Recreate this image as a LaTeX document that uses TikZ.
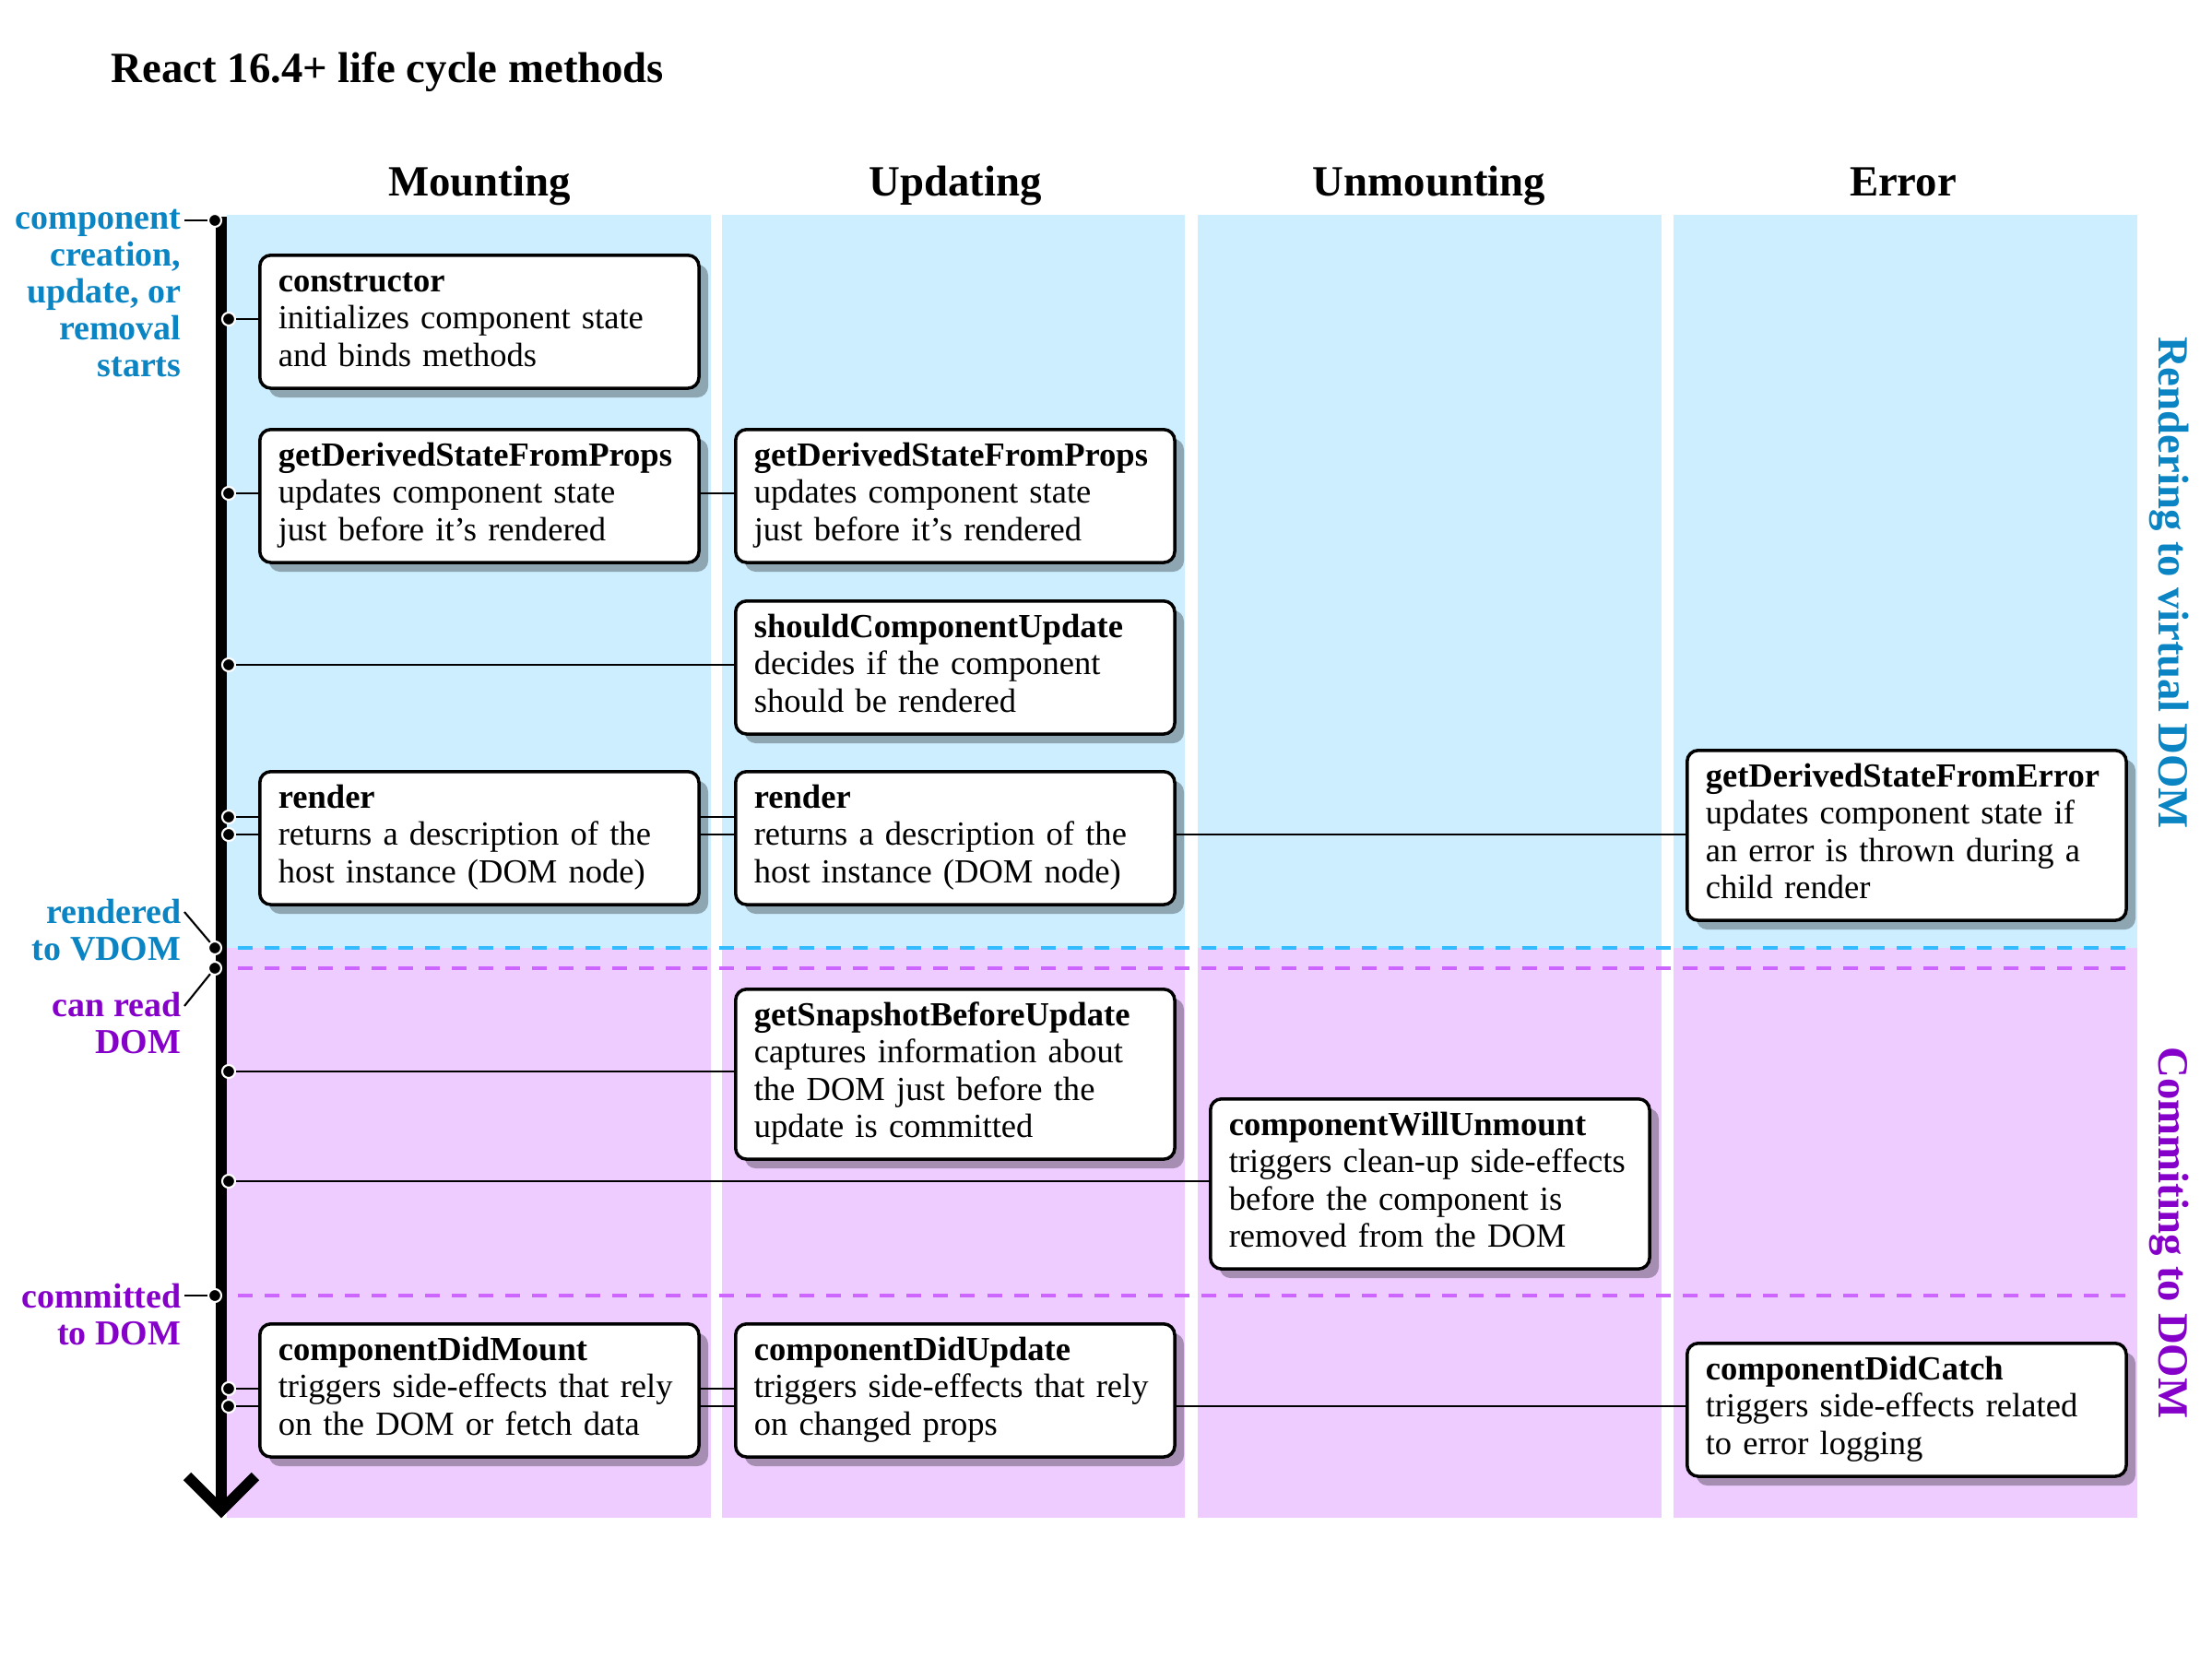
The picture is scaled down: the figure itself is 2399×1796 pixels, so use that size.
\documentclass[tikz,border=0pt]{standalone}
\usepackage{fontspec}
\setmainfont{Liberation Serif}
\usepackage{xcolor}
\usetikzlibrary{positioning, calc, shadows, backgrounds}

\definecolor{vdomblue}{HTML}{0A84C2}
\definecolor{dompurple}{HTML}{8500C8}
\definecolor{vdomfill}{HTML}{CCEEFF}
\definecolor{domfill}{HTML}{EECCFF}
\definecolor{vdomdash}{HTML}{33BBFF}
\definecolor{domdash}{HTML}{CC66FF}

\tikzset{
  method/.style={draw, line width=1pt, fill=white, rounded corners=0.12cm, anchor=north west,
    text width=4.36cm, align=left, inner xsep=0.2cm, inner ysep=0.12cm,
    font=\fontsize{10.4}{11.4}\selectfont,
    execute at begin node=\strut, execute at end node=\strut,
    drop shadow={shadow xshift=0.1cm, shadow yshift=-0.1cm, fill=black, opacity=0.3}},
  phase/.style={font=\fontsize{13.3}{16}\selectfont\bfseries},
  moment/.style={anchor=north east, align=right, inner sep=0pt,
    font=\fontsize{10.8}{11.4}\selectfont\bfseries, execute at begin node=\strut},
  axisdot/.style={circle, fill=black, draw=white, line width=0.6pt, minimum size=0.14cm, inner sep=0pt},
  link/.style={line width=0.6pt},
  stage/.style={line width=1.1pt, dash pattern=on 0.16cm off 0.13cm}
}

\begin{document}
\begin{tikzpicture}[x=0.01cm, y=-0.01cm]
        \useasboundingbox (0,0) rectangle (2399,1796);

        \begin{pgfonlayer}{background}
        \foreach \xa/\xb in {246/771, 783/1285, 1299/1802, 1815/2318} {
            \fill[vdomfill] (\xa,233) rectangle (\xb,1028);
            \fill[domfill] (\xa,1028) rectangle (\xb,1646);
        }
        \draw[stage, vdomdash] (258,1028) -- (2318,1028);
        \draw[stage, domdash] (258,1050) -- (2318,1050);
        \draw[stage, domdash] (258,1405) -- (2318,1405);
        \end{pgfonlayer}

        \node[phase, anchor=base west, inner sep=0pt] (title) at (120,89) {React 16.4+ life cycle methods};
        \node[phase, anchor=base] (hMount) at (520,212) {Mounting};
        \node[phase, anchor=base] (hUpdate) at (1036,212) {Updating};
        \node[phase, anchor=base] (hUnmount) at (1550,212) {Unmounting};
        \node[phase, anchor=base] (hError) at (2064,212) {Error};

        \node[method] (cons) at (280,275) {\textbf{constructor}\\initializes component state\\and binds methods};
        \node[method] (gdpM) at (280,464) {\textbf{getDerivedStateFromProps}\\updates component state\\just before it’s rendered};
        \node[method] (rendM) at (280,835) {\textbf{render}\\returns a description of the\\host instance (DOM node)};
        \node[method] (didMount) at (280,1434) {\textbf{componentDidMount}\\triggers side-effects that rely\\on the DOM or fetch data};

        \node[method] (gdpU) at (796,464) {\textbf{getDerivedStateFromProps}\\updates component state\\just before it’s rendered};
        \node[method] (shouldU) at (796,650) {\textbf{shouldComponentUpdate}\\decides if the component\\should be rendered};
        \node[method] (rendU) at (796,835) {\textbf{render}\\returns a description of the\\host instance (DOM node)};
        \node[method] (snapshot) at (796,1071) {\textbf{getSnapshotBeforeUpdate}\\captures information about\\the DOM just before the\\update is committed};
        \node[method] (didUpdate) at (796,1434) {\textbf{componentDidUpdate}\\triggers side-effects that rely\\on changed props};

        \node[method] (willUnmount) at (1311,1190) {\textbf{componentWillUnmount}\\triggers clean-up side-effects\\before the component is\\removed from the DOM};

        \node[method] (gdsError) at (1828,812) {\textbf{getDerivedStateFromError}\\updates component state if\\an error is thrown during a\\child render};
        \node[method] (didCatch) at (1828,1455) {\textbf{componentDidCatch}\\triggers side-effects related\\to error logging};

        \node[phase, vdomblue, rotate=-90] (sideVdom) at (2353,632) {Rendering to virtual DOM};
        \node[phase, dompurple, rotate=-90] (sideDom) at (2353,1337) {Commiting to DOM};

        \draw[line width=3.4pt] (240,235) -- (240,1638);
        \draw[line width=3.4pt] (203,1601) -- (240,1638) -- (277,1601);

        \node[axisdot] (tStart) at (233,239) {};
        \node[axisdot] (tVdom) at (233,1028) {};
        \node[axisdot] (tRead) at (233,1050) {};
        \node[axisdot] (tCommit) at (233,1405) {};

        \node[axisdot] (tCons) at (248,346) {};
        \node[axisdot] (tProps) at (248,535) {};
        \node[axisdot] (tShould) at (248,721) {};
        \node[axisdot] (tRendA) at (248,886) {};
        \node[axisdot] (tRendB) at (248,905) {};
        \node[axisdot] (tSnap) at (248,1162) {};
        \node[axisdot] (tUnmount) at (248,1281) {};
        \node[axisdot] (tDidA) at (248,1506) {};
        \node[axisdot] (tDidB) at (248,1525) {};

        \node[moment, vdomblue] (lStart) at (197,226) {component\\creation,\\update, or\\removal\\starts};
        \node[moment, vdomblue] (lVdom) at (197,974) {rendered\\to VDOM};
        \node[moment, dompurple] (lRead) at (197,1075) {can read\\DOM};
        \node[moment, dompurple] (lCommit) at (197,1391) {committed\\to DOM};

        \draw[link] ($(lStart.north east |- tStart)+(3,0)$) -- (tStart);
        \draw[link] ($(lVdom.north east)+(3,15)$) -- (tVdom);
        \draw[link] ($(lRead.north east)+(3,16)$) -- (tRead);
        \draw[link] ($(lCommit.north east |- tCommit)+(3,0)$) -- (tCommit);

        \begin{pgfonlayer}{background}
        \draw[link] (tCons) -- (cons.west |- tCons);
        \draw[link] (tProps) -- (gdpU.west |- tProps);
        \draw[link] (tShould) -- (shouldU.west |- tShould);
        \draw[link] (tRendA) -- (rendU.west |- tRendA);
        \draw[link] (tRendB) -- (gdsError.west |- tRendB);
        \draw[link] (tSnap) -- (snapshot.west |- tSnap);
        \draw[link] (tUnmount) -- (willUnmount.west |- tUnmount);
        \draw[link] (tDidA) -- (didUpdate.west |- tDidA);
        \draw[link] (tDidB) -- (didCatch.west |- tDidB);
        \end{pgfonlayer}
    \end{tikzpicture}
\end{document}
